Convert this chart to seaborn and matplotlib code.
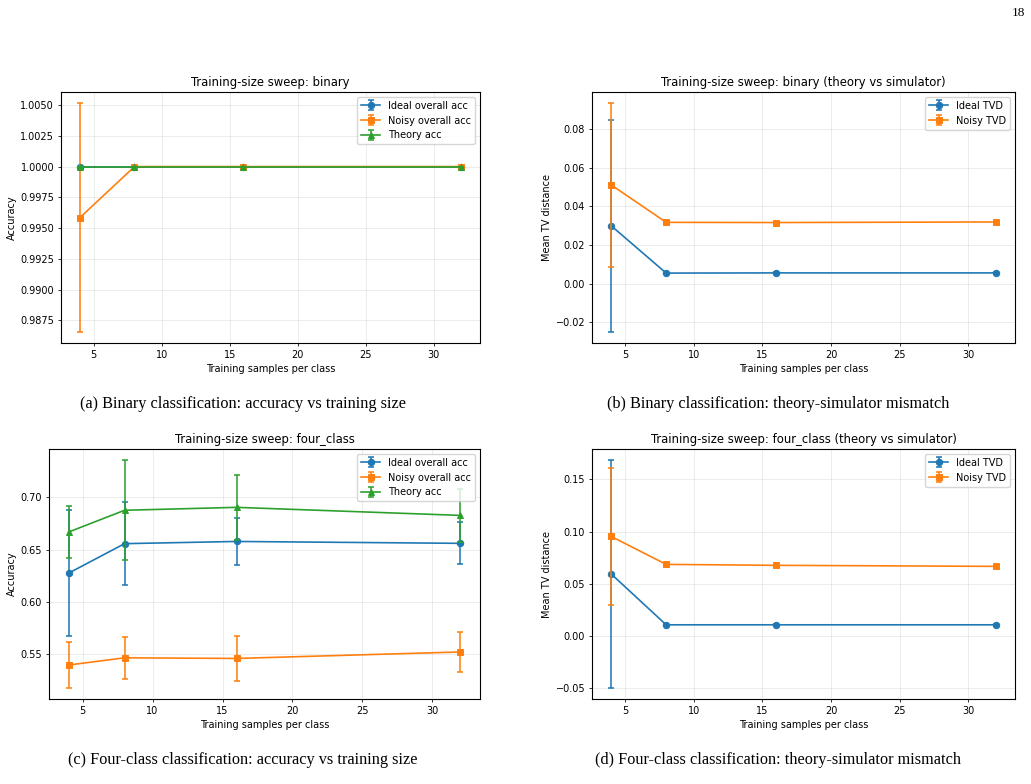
import numpy as np
import pandas as pd
import matplotlib
matplotlib.use("Agg")
import matplotlib.pyplot as plt
from matplotlib.legend_handler import HandlerTuple
import seaborn as sns

# ---------------- data ----------------
train_sizes = [4, 8, 16, 32]

# (a) binary accuracy
bin_ideal_acc = [1.0, 1.0, 1.0, 1.0]
bin_ideal_acc_err = [0.0, 0.0, 0.0, 0.0]
bin_noisy_acc = [0.99586, 1.0, 1.0, 1.0]
bin_noisy_acc_err = [0.00928, 0.0, 0.0, 0.0]
bin_theory_acc = [1.0, 1.0, 1.0, 1.0]
bin_theory_acc_err = [0.0, 0.0, 0.0, 0.0]

# (b) binary TVD
bin_ideal_tvd = [0.0299, 0.0055, 0.0056, 0.0056]
bin_ideal_tvd_err = [0.0546, 0.0004, 0.0004, 0.0004]
bin_noisy_tvd = [0.0510, 0.0317, 0.0316, 0.0319]
bin_noisy_tvd_err = [0.0421, 0.0004, 0.0004, 0.0004]

# (c) four-class accuracy
four_ideal_acc = [0.6275, 0.6557, 0.6578, 0.6560]
four_ideal_acc_err = [0.0600, 0.0397, 0.0221, 0.0200]
four_noisy_acc = [0.5397, 0.5466, 0.5460, 0.5522]
four_noisy_acc_err = [0.0216, 0.0201, 0.0211, 0.0195]
four_theory_acc = [0.6668, 0.6876, 0.6904, 0.6827]
four_theory_acc_err = [0.0251, 0.0477, 0.0311, 0.0254]

# (d) four-class TVD
four_ideal_tvd = [0.0594, 0.0108, 0.0108, 0.0108]
four_ideal_tvd_err = [0.1087, 0.0005, 0.0005, 0.0005]
four_noisy_tvd = [0.0953, 0.0686, 0.0677, 0.0667]
four_noisy_tvd_err = [0.0655, 0.0005, 0.0005, 0.0005]

titles = ["Training-size sweep: binary",
          "Training-size sweep: binary (theory vs simulator)",
          "Training-size sweep: four_class",
          "Training-size sweep: four_class (theory vs simulator)"]
captions = ["(a) Binary classification: accuracy vs training size",
            "(b) Binary classification: theory-simulator mismatch",
            "(c) Four-class classification: accuracy vs training size",
            "(d) Four-class classification: theory-simulator mismatch"]
xlabel = "Training samples per class"
ylabels = ["Accuracy", "Mean TV distance", "Accuracy", "Mean TV distance"]
acc_labels = ["Ideal overall acc", "Noisy overall acc", "Theory acc"]
tvd_labels = ["Ideal TVD", "Noisy TVD"]
page_number = "18"

# ---------------- style ----------------
C_BLUE, C_ORANGE, C_GREEN = "#1f77b4", "#ff7f0e", "#2ca02c"
colors = [C_BLUE, C_ORANGE, C_GREEN]
markers = ["o", "s", "^"]

S = 0.7
plt.rcParams.update({
    "font.family": ["DejaVu Sans"],
    "font.size": 10 * S,
    "axes.linewidth": 0.8,
    "xtick.major.size": 3.5 * S,
    "ytick.major.size": 3.5 * S,
    "xtick.major.width": 0.8 * S,
    "ytick.major.width": 0.8 * S,
    "xtick.labelsize": 10 * S,
    "ytick.labelsize": 10 * S,
    "axes.labelsize": 10 * S,
    "axes.titlesize": 12 * S,
    "legend.fontsize": 10 * S,
    "xtick.major.pad": 3.5 * S,
    "ytick.major.pad": 3.5 * S,
    "axes.labelpad": 4 * S,
    "axes.titlepad": 6 * S,
})

fig = plt.figure(figsize=(10.31, 7.84), dpi=100)

W, H = 1031.0, 784.0
def box(l, r, t, b):
    return [l / W, 1 - b / H, (r - l) / W, (b - t) / H]

axes = [
    fig.add_axes(box(61, 480, 92, 343)),
    fig.add_axes(box(592, 1015, 92, 343)),
    fig.add_axes(box(49, 480, 449, 699)),
    fig.add_axes(box(592, 1015, 449, 699)),
]

def draw(ax, series, labels):
    handles = []
    for i, ((y, e), lab) in enumerate(zip(series, labels)):
        c = colors[i]
        z = 2 + i
        eb = ax.errorbar(train_sizes, y, yerr=e, fmt="none", ecolor=c,
                         elinewidth=1.6 * S, capsize=3.5 * S,
                         capthick=1.6 * S, zorder=z)
        n_before = len(ax.lines)
        sns.lineplot(x=train_sizes, y=y, ax=ax, color=c, marker=markers[i],
                     markersize=6.6 * S, markeredgecolor=c, markeredgewidth=1.0 * S,
                     linewidth=1.7 * S, errorbar=None, legend=False, zorder=z)
        line = ax.lines[n_before:][-1] if len(ax.lines) > n_before else ax.lines[-1]
        line.set_zorder(z + 0.5)
        handles.append(((line, eb), lab))
    ax.grid(True, alpha=0.3, linewidth=0.8 * S)
    ax.set_axisbelow(True)
    leg = ax.legend([h for h, _ in handles], [l for _, l in handles], loc="upper right",
                    handler_map={tuple: HandlerTuple(ndivide=1)})
    return leg

draw(axes[0], [(bin_ideal_acc, bin_ideal_acc_err), (bin_noisy_acc, bin_noisy_acc_err),
               (bin_theory_acc, bin_theory_acc_err)], acc_labels)
draw(axes[1], [(bin_ideal_tvd, bin_ideal_tvd_err), (bin_noisy_tvd, bin_noisy_tvd_err)], tvd_labels)
draw(axes[2], [(four_ideal_acc, four_ideal_acc_err), (four_noisy_acc, four_noisy_acc_err),
               (four_theory_acc, four_theory_acc_err)], acc_labels)
draw(axes[3], [(four_ideal_tvd, four_ideal_tvd_err), (four_noisy_tvd, four_noisy_tvd_err)], tvd_labels)

for ax, t, yl in zip(axes, titles, ylabels):
    ax.set_title(t)
    ax.set_xlabel(xlabel)
    ax.set_ylabel(yl)
    ax.set_xticks([5, 10, 15, 20, 25, 30])

axes[0].yaxis.set_major_formatter(matplotlib.ticker.FormatStrFormatter("%.4f"))
axes[0].set_yticks([0.9875, 0.99, 0.9925, 0.995, 0.9975, 1.0, 1.0025, 1.005])

cap_font = dict(family=["Liberation Serif"], fontsize=11.7, ha="center", va="center")
fig.text(243 / W, 1 - 404 / H, captions[0], **cap_font)
fig.text(778 / W, 1 - 404 / H, captions[1], **cap_font)
fig.text(243 / W, 1 - 760 / H, captions[2], **cap_font)
fig.text(778 / W, 1 - 760 / H, captions[3], **cap_font)
fig.text(1018 / W, 1 - 13 / H, page_number, family=["Liberation Serif"], fontsize=9.5,
         ha="center", va="center")

fig.savefig("out.png", dpi=100)
